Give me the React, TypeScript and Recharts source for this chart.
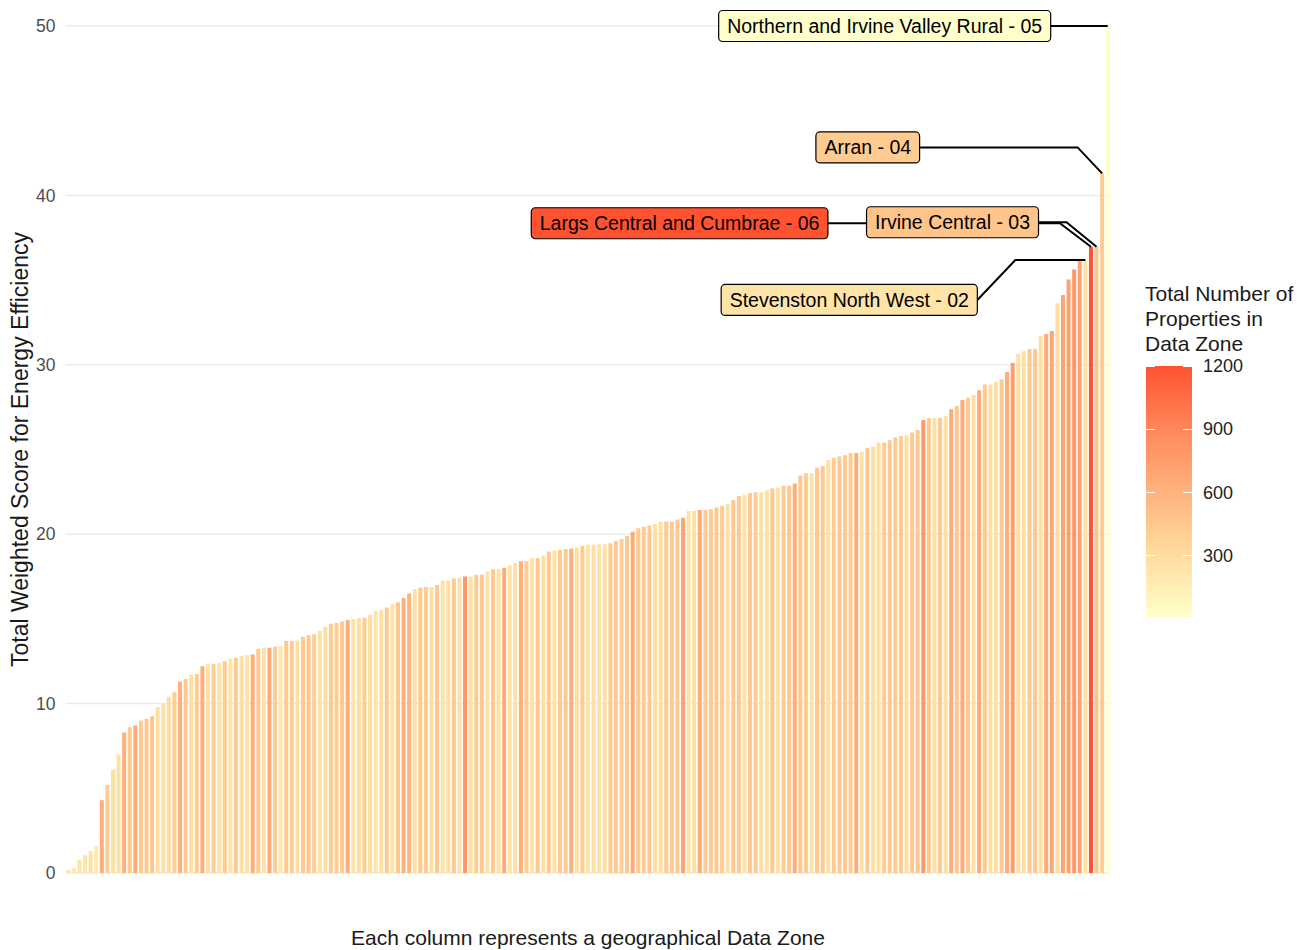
import { BarChart, Bar, XAxis, YAxis, CartesianGrid, Cell, LabelList } from 'recharts';

// Weighted energy-efficiency score per data zone, sorted ascending
const scores = [
  0.18, 0.3, 0.77, 1.06, 1.3, 1.6, 4.3, 5.2, 6.1, 7.0, 8.3, 8.6, 8.7, 9.0, 9.1, 9.25, 9.8, 9.96, 10.4, 10.7,
  11.3, 11.45, 11.7, 11.75, 12.2, 12.33, 12.35, 12.4, 12.5, 12.65, 12.7,
  12.8, 12.87, 12.9, 13.24, 13.3, 13.3, 13.36, 13.4, 13.7, 13.7, 13.72, 13.95, 14.03, 14.1, 14.3, 14.54,
  14.72, 14.76, 14.84, 14.94, 15.0, 15.05, 15.07, 15.23, 15.48, 15.53, 15.68, 15.86, 15.98, 16.23, 16.5, 16.76,
  16.86, 16.88, 16.88, 17.0, 17.25, 17.25, 17.39, 17.43, 17.5, 17.5, 17.6, 17.6, 17.8, 17.93, 17.95, 18.02,
  18.16, 18.3, 18.4, 18.4, 18.6, 18.6, 18.75, 18.98, 19.05, 19.07, 19.13, 19.15, 19.22, 19.3, 19.38,
  19.38, 19.4, 19.4, 19.46, 19.6, 19.72, 19.9, 20.15, 20.35, 20.44, 20.52, 20.6, 20.72, 20.75, 20.75, 20.87,
  20.97, 21.37, 21.38, 21.43, 21.43, 21.47, 21.58, 21.68, 21.78, 22.02, 22.25, 22.31, 22.43, 22.47, 22.49,
  22.59, 22.7, 22.76, 22.86, 22.86, 23.0, 23.47, 23.6, 23.6, 23.94, 24.02, 24.38, 24.52, 24.58, 24.66, 24.79,
  24.79, 24.87, 25.09, 25.17, 25.42, 25.42, 25.54, 25.72, 25.8, 25.83, 26.0, 26.15, 26.74, 26.86, 26.86, 26.87,
  26.97, 27.37, 27.57, 27.92, 28.06, 28.22, 28.5, 28.83, 28.83, 29.0, 29.14, 29.57, 30.1, 30.64, 30.8, 30.93,
  30.93, 31.7, 31.82, 32.0, 33.63, 34.12, 35.04, 35.63, 36.13, 36.19, 36.97, 36.97, 41.3, 50.0,
];

// Total number of properties in each data zone
const properties = [
  230, 210, 250, 240, 260, 200, 640, 420, 280, 260, 620, 450, 650, 430, 440, 460, 290, 270, 300, 420,
  610, 440, 280, 430, 630, 270, 420, 260, 440, 250, 430,
  270, 250, 640, 440, 260, 660, 430, 220, 450, 430, 280, 440, 460, 420, 270, 290,
  440, 430, 450, 620, 260, 280, 430, 270, 250, 280, 440, 260, 450, 620, 600, 270,
  440, 430, 270, 450, 260, 280, 440, 270, 800, 280, 430, 450, 260, 440, 280, 640,
  260, 270, 620, 430, 260, 440, 270, 430, 260, 440, 450, 620, 270, 430, 260,
  280, 260, 270, 430, 440, 420, 450, 650, 440, 430, 450, 270, 280, 430, 440, 450,
  700, 260, 270, 640, 430, 440, 450, 430, 270, 440, 450, 260, 440, 430, 270,
  260, 440, 270, 430, 450, 640, 440, 430, 260, 450, 440, 270, 430, 450, 440, 430,
  640, 260, 440, 270, 280, 430, 450, 440, 430, 270, 440, 450, 780, 440, 270, 450,
  270, 640, 450, 660, 440, 270, 650, 440, 270, 280, 440, 640, 760, 280, 270, 440,
  450, 280, 660, 680, 300, 700, 720, 800, 700, 250, 1200, 480, 430, 10,
];

// Labelled zones (1-based position in the sorted order)
const labelZones = [183, 184, 185, 186, 187];
const labelTexts = [
  'Stevenston North West - 02',
  'Largs Central and Cumbrae - 06',
  'Irvine Central - 03',
  'Arran - 04',
  'Northern and Irvine Valley Rural - 05',
];

const yTicks = [0, 10, 20, 30, 40, 50];
const legendBreaks = [300, 600, 900, 1200];

const data = scores.map((score, i) => ({
  zone: i + 1,
  score,
  properties: properties[i],
  label: labelZones.includes(i + 1) ? labelTexts[labelZones.indexOf(i + 1)] : undefined,
}));

const pMin = Math.min(...properties);
const pMax = Math.max(...properties);

// gradient stops, low -> high
const stops = ['#FFFFCC', '#FFDC9E', '#FFB27C', '#FF875A', '#FF5231'];

function hexToRgb(h: string) {
  return [1, 3, 5].map((k) => parseInt(h.slice(k, k + 2), 16));
}

function colorFor(v: number) {
  const t = Math.max(0, Math.min(1, (v - pMin) / (pMax - pMin)));
  const seg = Math.min(stops.length - 2, Math.floor(t * (stops.length - 1)));
  const f = t * (stops.length - 1) - seg;
  const a = hexToRgb(stops[seg]);
  const b = hexToRgb(stops[seg + 1]);
  const c = a.map((x, k) => Math.round(x + (b[k] - x) * f));
  return `rgb(${c[0]}, ${c[1]}, ${c[2]})`;
}

const FONT = "'Liberation Sans', Arial, sans-serif";
const LABEL_SIZE = 19.5;

// placement of the repelled label boxes relative to the bar top (px)
// dx: box right edge, dy: box centre, ex: elbow offset, kind: which leg is horizontal
const labelLayout = [
  { dx: -108, dy: 40, ex: 38, kind: 'v' },
  { dx: -263, dy: -23.5, ex: -31, kind: 'h' },
  { dx: -58, dy: -24.5, ex: -30, kind: 'h' },
  { dx: -182.5, dy: -26, ex: -24.5, kind: 'h' },
  { dx: -57, dy: 0, ex: 0, kind: 's' },
];

let measureCtx: CanvasRenderingContext2D | null = null;
function textWidth(s: string) {
  if (!measureCtx) {
    const c = document.createElement('canvas');
    measureCtx = c.getContext('2d');
  }
  if (!measureCtx) return s.length * 10;
  measureCtx.font = `${LABEL_SIZE}px ${FONT}`;
  return measureCtx.measureText(s).width;
}

function ZoneLabel(props: any) {
  const { value, index } = props;
  if (!value) return null;
  const vb = props.viewBox || props;
  const x = vb.x ?? props.x;
  const y = vb.y ?? props.y;
  const w = vb.width ?? props.width;
  const k = labelTexts.indexOf(value);
  const lay = labelLayout[k];
  const px = x + w / 2;
  const py = y;
  const bw = textWidth(value) + 17;
  const bh = 31;
  const bx = px + lay.dx;
  const by = py + lay.dy;
  let d = `M${bx},${by} L${px},${py}`;
  if (lay.kind === 'h') d = `M${bx},${by} L${px + lay.ex},${by} L${px},${py}`;
  if (lay.kind === 'v') d = `M${bx},${by} L${bx + lay.ex},${py} L${px},${py}`;
  return (
    <g key={`lab-${index}`}>
      <path d={d} fill="none" stroke="#000" strokeWidth={2} />
      <rect
        x={bx - bw}
        y={by - bh / 2}
        width={bw}
        height={bh}
        rx={4}
        ry={4}
        fill={colorFor(data[index].properties)}
        stroke="#000"
        strokeWidth={1.2}
      />
      <text
        x={bx - bw / 2}
        y={by}
        textAnchor="middle"
        dominantBaseline="central"
        fontSize={LABEL_SIZE}
        fontFamily={FONT}
        fill="#000"
      >
        {value}
      </text>
    </g>
  );
}

function ColourLegend() {
  const top = 366;
  const h = 251;
  const pos = (v: number) => top + h - ((v - pMin) / (pMax - pMin)) * h;
  const grad = `linear-gradient(to top, ${stops.join(', ')})`;
  return (
    <div style={{ position: 'absolute', left: 0, top: 0 }}>
      <div
        style={{
          position: 'absolute',
          left: 1145,
          top: 281,
          fontSize: 21,
          lineHeight: '25px',
          color: '#1a1a1a',
          whiteSpace: 'nowrap',
        }}
      >
        Total Number of
        <br />
        Properties in
        <br />
        Data Zone
      </div>
      <div style={{ position: 'absolute', left: 1146, top, width: 46, height: h, background: grad }} />
      {legendBreaks.map((b) => (
        <div key={b}>
          <div style={{ position: 'absolute', left: 1146, top: pos(b) - 0.5, width: 9, height: 1, background: '#fff' }} />
          <div style={{ position: 'absolute', left: 1183, top: pos(b) - 0.5, width: 9, height: 1, background: '#fff' }} />
          <div
            style={{
              position: 'absolute',
              left: 1203,
              top: pos(b) - 11,
              height: 22,
              lineHeight: '22px',
              fontSize: 18,
              color: '#222',
            }}
          >
            {b}
          </div>
        </div>
      ))}
    </div>
  );
}

export default function App() {
  return (
    <div
      style={{
        position: 'absolute',
        left: 0,
        top: 0,
        width: 1315,
        height: 950,
        background: '#fff',
        fontFamily: FONT,
      }}
    >
      <BarChart
        width={1315}
        height={950}
        data={data}
        margin={{ top: 26, right: 204.5, left: 15.5, bottom: 0 }}
        barCategoryGap="14%"
      >
        <CartesianGrid vertical={false} stroke="#EBEBEB" strokeWidth={1.5} />
        <XAxis
          dataKey="zone"
          tick={false}
          tickLine={false}
          axisLine={false}
          height={77}
          label={{
            value: 'Each column represents a geographical Data Zone',
            position: 'insideBottom',
            offset: 5.5,
            style: { fontSize: 21, fill: '#1a1a1a' },
          }}
        />
        <YAxis
          width={50}
          domain={[0, 50]}
          ticks={yTicks}
          tickLine={false}
          axisLine={false}
          tickMargin={4}
          tick={{ fontSize: 17.5, fill: '#4D4D4D' }}
          label={{
            value: 'Total Weighted Score for Energy Efficiency',
            angle: -90,
            position: 'insideLeft',
            offset: 4,
            style: { textAnchor: 'middle', fontSize: 23, fill: '#1a1a1a' },
          }}
        />
        <Bar dataKey="score" isAnimationActive={false}>
          {data.map((d) => (
            <Cell key={d.zone} fill={colorFor(d.properties)} />
          ))}
          <LabelList dataKey="label" content={ZoneLabel} />
        </Bar>
      </BarChart>
      <ColourLegend />
    </div>
  );
}
